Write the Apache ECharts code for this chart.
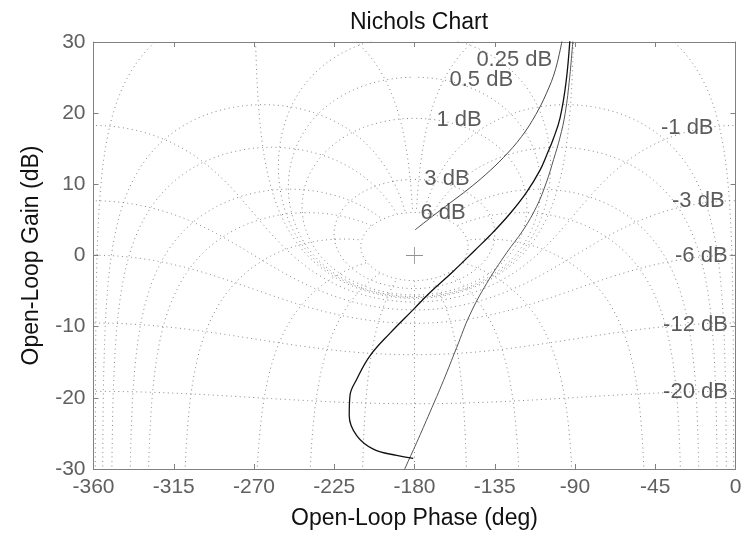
<!DOCTYPE html>
<html>
<head>
<meta charset="utf-8">
<title>Nichols Chart</title>
<script src="https://cdn.jsdelivr.net/npm/echarts@6/dist/echarts.min.js"></script>
<style>
html, body { margin: 0; padding: 0; background: #fff; }
#main { width: 754px; height: 535px; }
</style>
</head>
<body>
<div id="main"></div>
<script>
// grid: closed-loop gain contours (dB) and closed-loop phase contours (deg)
var gainLines = [6, 3, 1, 0.5, 0.25, 0, -1, -3, -6, -12, -20, -40];
var phaseLines = [-1, -5, -10, -20, -30, -50, -90, -120, -150, -180,
                  -210, -240, -270, -310, -330, -340, -350, -355, -359];
var gainLabels = ['0.25 dB', '0.5 dB', '1 dB', '3 dB', '6 dB',
                  '-1 dB', '-3 dB', '-6 dB', '-12 dB', '-20 dB'];

// open-loop responses: [phase (deg), gain (dB)]
var curveA = [[-179.7, 3.6], [-170, 5.5], [-160, 7.4], [-150, 9.3], [-140, 11.4],
              [-130, 13.8], [-120, 16.7], [-112, 19.8], [-106, 22.8], [-101, 26.1],
              [-97, 30.5]];
var curveB = [[-92.8, 30.5], [-95.0, 24.4], [-98.4, 19.3], [-102.3, 16.3], [-105.9, 14.1],
              [-109.6, 12.0], [-117.1, 8.9], [-126.4, 5.9], [-137.7, 2.8], [-146.1, 0.75],
              [-158.2, -2.2], [-171.3, -5.2], [-180.7, -7.6], [-193.7, -10.9], [-205.0, -14.1],
              [-212.4, -17.4], [-216.2, -19.7], [-216.6, -22.5], [-212.4, -25.3], [-203.1, -27.2],
              [-190.0, -28.1], [-180.7, -28.5]];
var curveC = [[-91.1, 30.5], [-93.0, 25.0], [-95.5, 20.0], [-98.5, 16.5], [-102.0, 13.5],
              [-106.0, 10.3], [-111.5, 6.9], [-119.0, 3.6], [-128.3, 0.4], [-139.5, -3.9],
              [-148.9, -8.3], [-156.3, -12.9], [-163.8, -17.6], [-171.3, -22.0], [-178.8, -26.3],
              [-185.3, -29.9], [-186.0, -30.4]];
var criticalPoint = [[-180, 0]];

// where the contour labels sit (left edge phase, centre gain)
var labelAt = {
    '0.25 dB': [-145.3, 27.5], '0.5 dB': [-160.4, 24.7], '1 dB': [-167.7, 19.1],
    '3 dB': [-174.5, 10.7], '6 dB': [-176.7, 6.0],
    '-1 dB': [-41.8, 17.9], '-3 dB': [-35.6, 7.7], '-6 dB': [-33.9, -0.1],
    '-12 dB': [-40.6, -9.7], '-20 dB': [-40.6, -19.2]
};

var D = Math.PI / 180;

// G = T / (1 - T), returns [phase deg, gain dB]
function openLoop(re, im, phiDeg) {
    var dr = 1 - re, di = -im;
    var mag = Math.sqrt(re * re + im * im) / Math.sqrt(dr * dr + di * di);
    var ph = phiDeg - Math.atan2(di, dr) / D;
    return [ph, 20 * Math.log10(mag)];
}

function gainContour(db) {
    var M = Math.pow(10, db / 20), pts = [];
    for (var i = 1; i < 2880; i++) {
        var phi = -i * 0.125;
        pts.push(openLoop(M * Math.cos(phi * D), M * Math.sin(phi * D), phi));
    }
    return pts;
}

// phase lines stop on the largest gain contour
function phaseContour(phi) {
    var pts = [], top = Math.log10(Math.pow(10, gainLines[0] / 20)), n = 4000;
    for (var i = 0; i <= n; i++) {
        var m = Math.pow(10, -3 + (top + 3) * i / n);
        var re = m * Math.cos(phi * D), im = m * Math.sin(phi * D);
        if (phi === -180) im = 0;
        pts.push(openLoop(re, im, phi));
    }
    return pts;
}

var gridStyle = { color: '#858585', width: 1, type: [1, 3.5] };
var series = [];

gainLines.forEach(function (g) {
    series.push({ type: 'line', data: gainContour(g), showSymbol: false, silent: true,
        lineStyle: gridStyle, z: 1 });
});
phaseLines.forEach(function (p) {
    series.push({ type: 'line', data: phaseContour(p), showSymbol: false, silent: true,
        lineStyle: gridStyle, z: 1 });
});

series.push({ type: 'line', data: curveA, showSymbol: false, smooth: 0.4,
    lineStyle: { color: '#4a4a4a', width: 1 }, z: 3 });
series.push({ type: 'line', data: curveB, showSymbol: false, smooth: 0.4,
    lineStyle: { color: '#111', width: 1.3 }, z: 4 });
series.push({ type: 'line', data: curveC, showSymbol: false, smooth: 0.4,
    lineStyle: { color: '#555', width: 1 }, z: 3 });

series.push({ type: 'scatter', data: criticalPoint, symbolSize: 17,
    symbol: 'path://M9.5,0h1v20h-1zM0,9.5h20v1h-20z',
    itemStyle: { color: '#777' }, z: 5 });

series.push({
    type: 'scatter', symbolSize: 0, z: 6,
    data: gainLabels.map(function (t) { return { name: t, value: labelAt[t] }; }),
    label: { show: true, position: 'right', distance: 0, formatter: '{b}',
        color: '#333', fontSize: 22, fontFamily: 'Liberation Sans, Arial, sans-serif' }
});

var axisLine = { show: true, onZero: false, lineStyle: { color: '#808080', width: 1 } };
var axisTick = { show: true, inside: true, length: 5, lineStyle: { color: '#808080' } };
var tickFont = { color: '#606060', fontSize: 21, fontFamily: 'Liberation Sans, Arial, sans-serif' };

var option = {
    animation: false,
    backgroundColor: '#fff',
    title: {
        text: 'Nichols Chart', left: 414, top: 6, textAlign: 'center',
        textStyle: { color: '#111', fontSize: 23, fontWeight: 'normal',
            fontFamily: 'Liberation Sans, Arial, sans-serif' }
    },
    grid: { left: 93.5, right: 18.5, top: 42, bottom: 65 },
    xAxis: [{
        type: 'value', min: -360, max: 0, interval: 45, position: 'bottom',
        name: 'Open-Loop Phase (deg)', nameLocation: 'middle', nameGap: 38,
        nameTextStyle: { color: '#111', fontSize: 23, fontFamily: 'Liberation Sans, Arial, sans-serif' },
        axisLine: axisLine, axisTick: axisTick, splitLine: { show: false },
        axisLabel: Object.assign({ margin: 8 }, tickFont)
    }, {
        type: 'value', min: -360, max: 0, interval: 45, position: 'top',
        axisLine: axisLine, axisTick: axisTick, splitLine: { show: false },
        axisLabel: { show: false }
    }],
    yAxis: [{
        type: 'value', min: -30, max: 30, interval: 10, position: 'left',
        name: 'Open-Loop Gain (dB)', nameLocation: 'middle', nameGap: 50,
        nameTextStyle: { color: '#111', fontSize: 23, fontFamily: 'Liberation Sans, Arial, sans-serif' },
        axisLine: axisLine, axisTick: axisTick, splitLine: { show: false },
        axisLabel: Object.assign({ margin: 8 }, tickFont)
    }, {
        type: 'value', min: -30, max: 30, interval: 10, position: 'right',
        axisLine: axisLine, axisTick: axisTick, splitLine: { show: false },
        axisLabel: { show: false }
    }],
    series: series
};

var myChart = echarts.init(document.getElementById('main'));
myChart.setOption(option);
</script>
</body>
</html>
